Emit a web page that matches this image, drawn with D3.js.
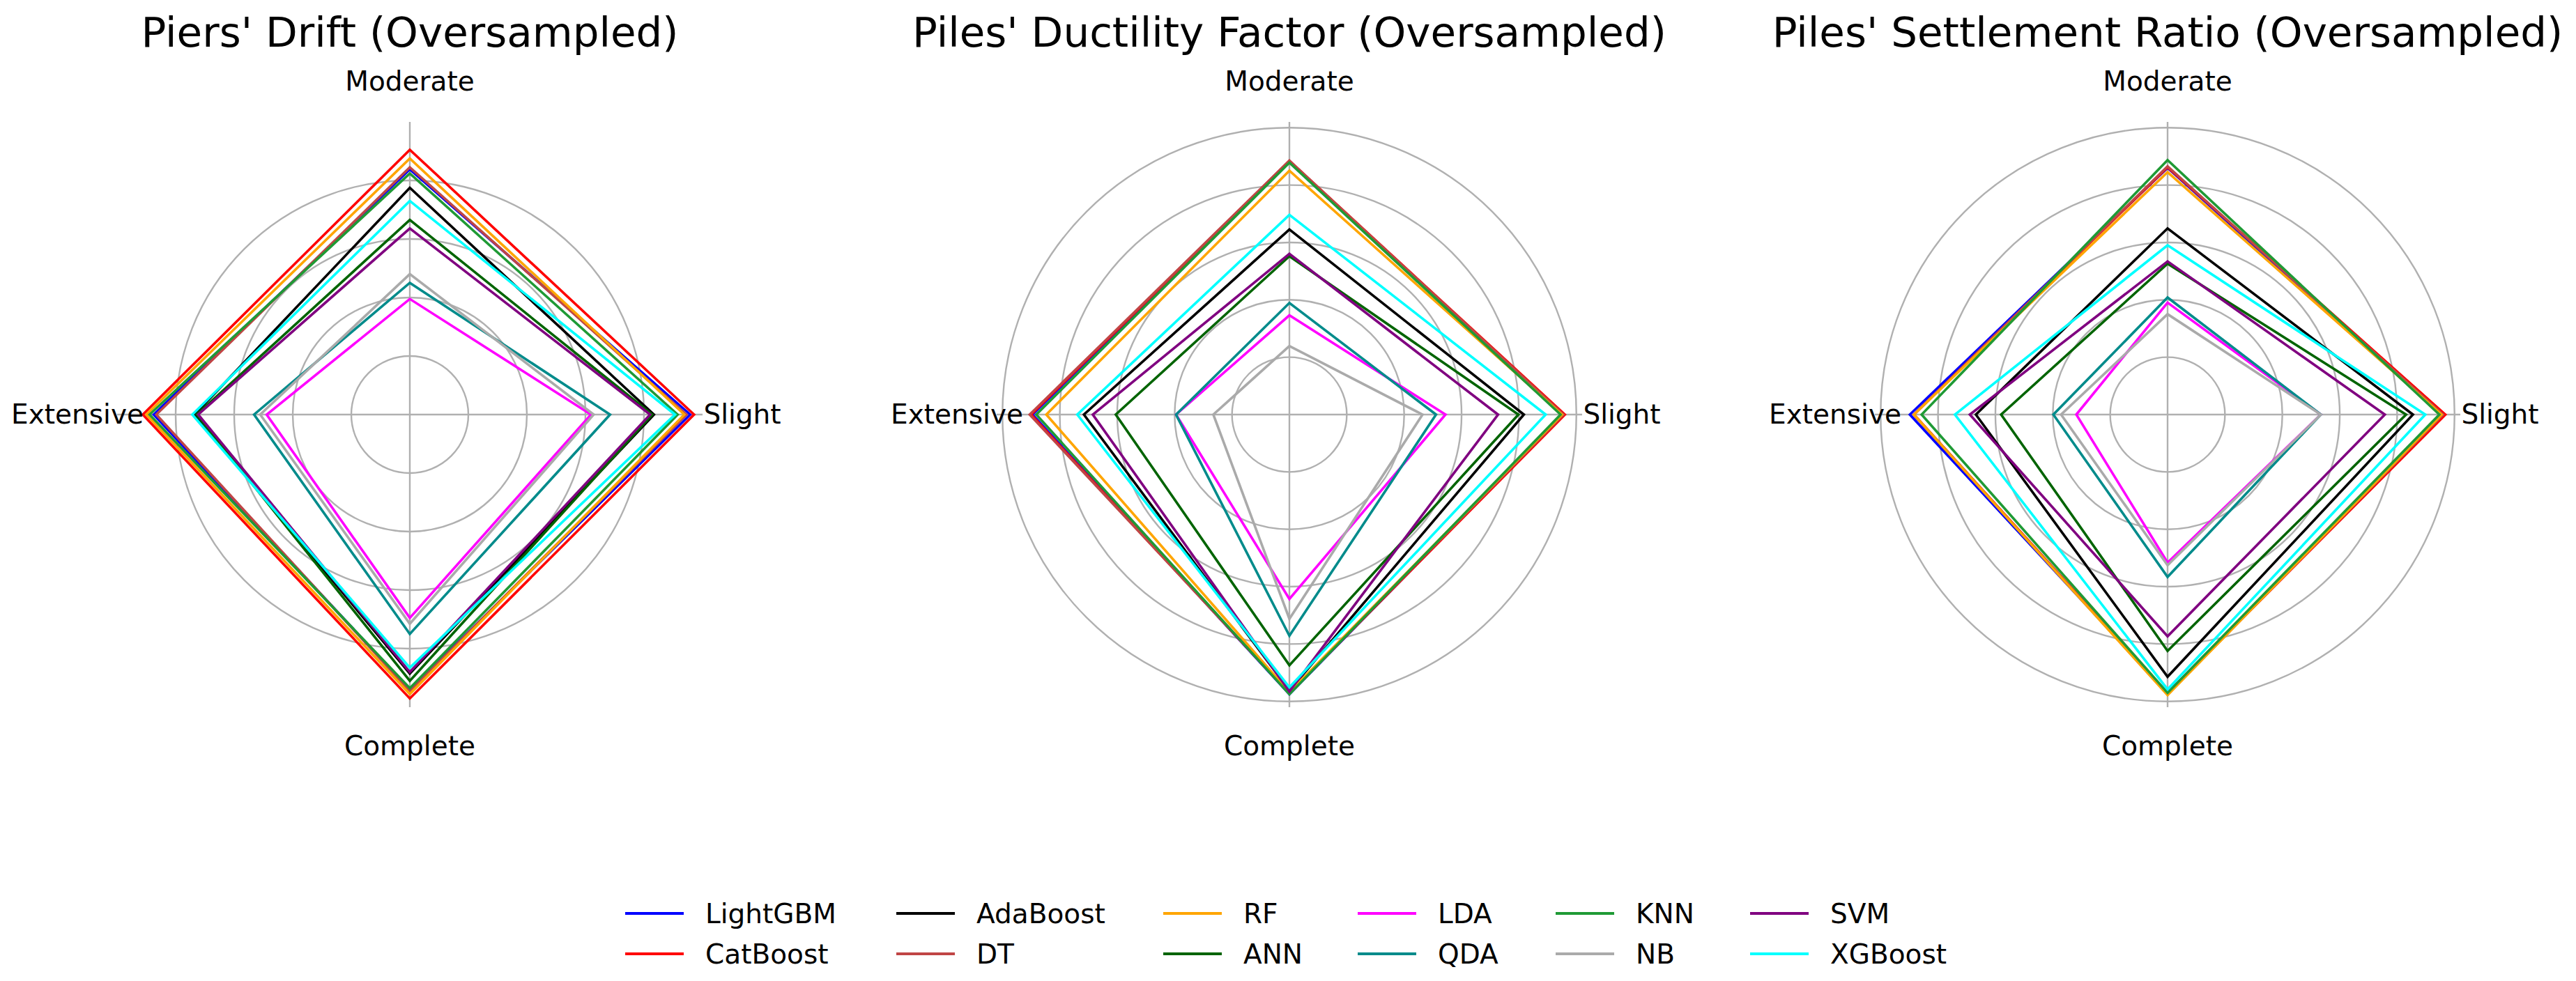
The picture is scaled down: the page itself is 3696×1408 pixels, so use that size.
<!DOCTYPE html>
<html>
<head>
<meta charset="utf-8">
<script src="https://cdn.jsdelivr.net/npm/d3@7"></script>
<style>
  html, body { margin: 0; padding: 0; background: #ffffff; }
  svg { display: block; font-family: "DejaVu Sans", sans-serif; }
</style>
</head>
<body>
<svg id="chart" width="3696" height="1408"></svg>
<script>
// ---------------- DATA ----------------
const categories = ["Slight", "Moderate", "Extensive", "Complete"];
const models = ["LightGBM", "CatBoost", "AdaBoost", "DT", "RF", "ANN",
                "LDA", "QDA", "KNN", "NB", "SVM", "XGBoost"];
const modelColors = ["#0000ff", "#ff0000", "#000000", "#c04545", "#ffa500", "#006400",
                     "#ff00ff", "#008b8b", "#1f9a35", "#aaaaaa", "#800080", "#00ffff"];

const titles = ["Piers' Drift (Oversampled)",
                "Piles' Ductility Factor (Oversampled)",
                "Piles' Settlement Ratio (Oversampled)"];

// values per model: [Slight, Moderate, Extensive, Complete]
const piersDrift = [
  [0.958, 0.838, 0.875, 0.940],  // LightGBM
  [0.971, 0.905, 0.912, 0.970],  // CatBoost
  [0.834, 0.775, 0.735, 0.885],  // AdaBoost
  [0.945, 0.845, 0.866, 0.945],  // DT
  [0.938, 0.875, 0.900, 0.955],  // RF
  [0.828, 0.665, 0.728, 0.910],  // ANN
  [0.619, 0.395, 0.489, 0.695],  // LDA
  [0.684, 0.450, 0.532, 0.750],  // QDA
  [0.915, 0.824, 0.889, 0.935],  // KNN
  [0.628, 0.480, 0.511, 0.715],  // NB
  [0.821, 0.636, 0.723, 0.880],  // SVM
  [0.906, 0.730, 0.743, 0.865]   // XGBoost
];
const pilesDuctility = [
  [0.955, 0.882, 0.895, 0.975],
  [0.960, 0.884, 0.900, 0.972],
  [0.817, 0.645, 0.716, 0.962],
  [0.955, 0.885, 0.905, 0.970],
  [0.950, 0.850, 0.847, 0.968],
  [0.798, 0.552, 0.605, 0.874],
  [0.544, 0.346, 0.395, 0.643],
  [0.511, 0.389, 0.395, 0.771],
  [0.945, 0.878, 0.882, 0.975],
  [0.464, 0.239, 0.265, 0.712],
  [0.727, 0.560, 0.685, 0.965],
  [0.893, 0.696, 0.739, 0.951]
];
const pilesSettlement = [
  [0.955, 0.860, 0.898, 0.970],
  [0.968, 0.862, 0.884, 0.972],
  [0.855, 0.649, 0.668, 0.914],
  [0.960, 0.865, 0.884, 0.975],
  [0.955, 0.845, 0.884, 0.978],
  [0.831, 0.526, 0.580, 0.824],
  [0.534, 0.390, 0.318, 0.516],
  [0.534, 0.408, 0.398, 0.566],
  [0.947, 0.887, 0.857, 0.970],
  [0.534, 0.350, 0.371, 0.525],
  [0.757, 0.534, 0.689, 0.773],
  [0.898, 0.590, 0.741, 0.958]
];
const chartValues = [piersDrift, pilesDuctility, pilesSettlement];
const radialTicks = [[0.2, 0.4, 0.6, 0.8], [0.2, 0.4, 0.6, 0.8, 1.0], [0.2, 0.4, 0.6, 0.8, 1.0]];
const radialMax = [1.0, 1.02, 1.02];

// ---------------- LAYOUT ----------------
const svg = d3.select("#chart");
svg.append("rect").attr("width", 3696).attr("height", 1408).attr("fill", "#fff");

const centersX = [588, 1850, 3110];
const cy = 595;
const axisLen = 420;
const gridColor = "#b0b0b0";

const angle = d3.scaleLinear().domain([0, categories.length])
  .range([Math.PI / 2, Math.PI / 2 - 2 * Math.PI]);

chartValues.forEach((vals, ci) => {
  const cx = centersX[ci];
  const r = d3.scaleLinear().domain([0, radialMax[ci]]).range([0, axisLen]);
  const g = svg.append("g").attr("transform", `translate(${cx},${cy})`);

  // grid circles
  g.selectAll("circle.grid").data(radialTicks[ci]).join("circle")
    .attr("class", "grid")
    .attr("r", d => r(d))
    .attr("fill", "none").attr("stroke", gridColor).attr("stroke-width", 2.4);

  // spokes
  g.selectAll("line.spoke").data(categories).join("line")
    .attr("class", "spoke")
    .attr("x1", 0).attr("y1", 0)
    .attr("x2", (d, i) => axisLen * Math.sin(angle(i)))
    .attr("y2", (d, i) => -axisLen * Math.cos(angle(i)))
    .attr("stroke", gridColor).attr("stroke-width", 2.4);

  // polygons
  const line = d3.lineRadial()
    .angle((d, i) => angle(i))
    .radius(d => r(d))
    .curve(d3.curveLinearClosed);

  g.selectAll("path.series").data(vals).join("path")
    .attr("class", "series")
    .attr("d", d => line(d))
    .attr("fill", "none")
    .attr("stroke", (d, i) => modelColors[i])
    .attr("stroke-width", 3.6)
    .attr("stroke-linejoin", "miter");

  // category labels
  const labelDist = 477;
  g.selectAll("text.cat").data(categories).join("text")
    .attr("class", "cat")
    .attr("x", (d, i) => labelDist * Math.sin(angle(i)))
    .attr("y", (d, i) => {
      const yy = -labelDist * Math.cos(angle(i));
      if (i === 1) return -465;
      if (i === 3) return 489;
      return yy + 13;
    })
    .attr("text-anchor", "middle")
    .attr("font-size", 39)
    .attr("fill", "#000")
    .text(d => d);

  // title
  svg.append("text")
    .attr("x", cx).attr("y", 67)
    .attr("text-anchor", "middle")
    .attr("font-size", 59.5)
    .attr("fill", "#000")
    .text(titles[ci]);
});

// ---------------- LEGEND ----------------
const legendColX = [897, 1286, 1669, 1948, 2232, 2511];
const legendRowY = [1311, 1369];
const lg = svg.append("g");
models.forEach((m, i) => {
  const col = Math.floor(i / 2), row = i % 2;
  const x = legendColX[col], y = legendRowY[row];
  lg.append("line")
    .attr("x1", x).attr("x2", x + 84)
    .attr("y1", y).attr("y2", y)
    .attr("stroke", modelColors[i]).attr("stroke-width", 3.8);
  lg.append("text")
    .attr("x", x + 115).attr("y", y + 14)
    .attr("font-size", 39)
    .attr("fill", "#000")
    .text(m);
});
</script>
</body>
</html>
